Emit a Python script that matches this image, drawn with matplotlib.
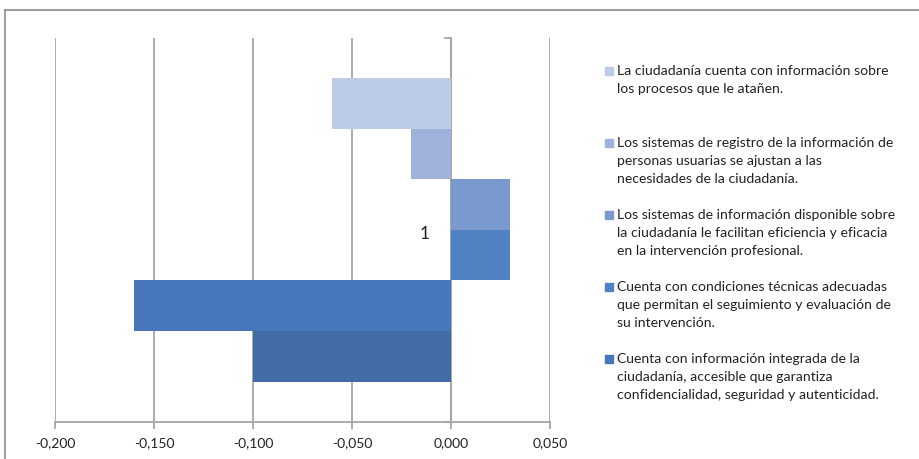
import matplotlib.pyplot as plt
from matplotlib.patches import Rectangle
from matplotlib.lines import Line2D
from matplotlib.ticker import FuncFormatter

plt.rcParams['font.family'] = ['Lato', 'DejaVu Sans']

# one category, six bars (top to bottom); the legend lists five series
category = "1"
values = [-0.06, -0.02, 0.03, 0.03, -0.16, -0.10]
colors = ['#BCCBE6', '#9FB2DC', '#7A99CE', '#4F81C3', '#4777BA', '#416CA6']
labels = [
    "La ciudadanía cuenta con información sobre\nlos procesos que le atañen.",
    "Los sistemas de registro de la información de\npersonas usuarias se ajustan a las\nnecesidades de la ciudadanía.",
    "Los sistemas de información disponible sobre\nla ciudadanía le facilitan eficiencia y eficacia\nen la intervención profesional.",
    "Cuenta con condiciones técnicas adecuadas\nque permitan el seguimiento y evaluación de\nsu intervención.",
    "Cuenta con información integrada de la\nciudadanía, accesible que garantiza\nconfidencialidad, seguridad y autenticidad.",
]
x_ticks = [-0.2, -0.15, -0.1, -0.05, 0.0, 0.05]

fig = plt.figure(figsize=(9.2, 4.59), dpi=100)
ax = fig.add_axes([0.0598, 0.0806, 0.538, 0.837])

n = len(values)
bar_h = 0.79 / n
ypos = [0.5 - 0.395 + bar_h * (n - 1 - i) + bar_h / 2 for i in range(n)]
ax.barh(ypos, values, height=bar_h, color=colors, edgecolor='none', zorder=3)

ax.set_xlim(x_ticks[0], x_ticks[-1])
ax.set_ylim(0, 1)
ax.set_xticks(x_ticks)
ax.xaxis.set_major_formatter(FuncFormatter(lambda v, p: f"{v:.3f}".replace('.', ',')))
ax.grid(axis='x', color='#A6A6A6', linewidth=1.3, zorder=1)
ax.tick_params(axis='x', colors='#A6A6A6', labelcolor='#222222', labelsize=10,
               length=5, width=1.3, pad=6)

for s in ['top', 'right']:
    ax.spines[s].set_visible(False)
ax.spines['bottom'].set_color('#A6A6A6')
ax.spines['bottom'].set_linewidth(1.3)
ax.spines['left'].set_position(('data', 0))
ax.spines['left'].set_color('#A6A6A6')
ax.spines['left'].set_linewidth(1.3)
ax.set_yticks([0, 1])
ax.set_yticklabels(['', ''])
ax.tick_params(axis='y', colors='#A6A6A6', length=5, width=1.3)

ax.annotate(category, xy=(0, 0.5), xytext=(-19, -3), textcoords='offset points',
            ha='center', va='center', fontsize=12.5, color='#222222')

# legend drawn as a column of swatches and wrapped labels
top = 1 - 65 / 459
step = 72 / 459
for i, lab in enumerate(labels):
    y = top - i * step
    fig.patches.append(Rectangle((605 / 920, y - 10 / 459), 8 / 920, 8 / 459,
                                 transform=fig.transFigure, color=colors[i]))
    fig.text(617 / 920, y, lab, ha='left', va='top', fontsize=10.1,
             color='#222222', linespacing=1.6)

# outer frame
fig.add_artist(Line2D([5 / 920, 5 / 920], [0, 1 - 10 / 459], transform=fig.transFigure,
                      color='#8C8C8C', linewidth=1.2))
fig.add_artist(Line2D([5 / 920, 1], [1 - 10 / 459, 1 - 10 / 459], transform=fig.transFigure,
                      color='#8C8C8C', linewidth=1.2))

fig.savefig('out.png', dpi=100)
